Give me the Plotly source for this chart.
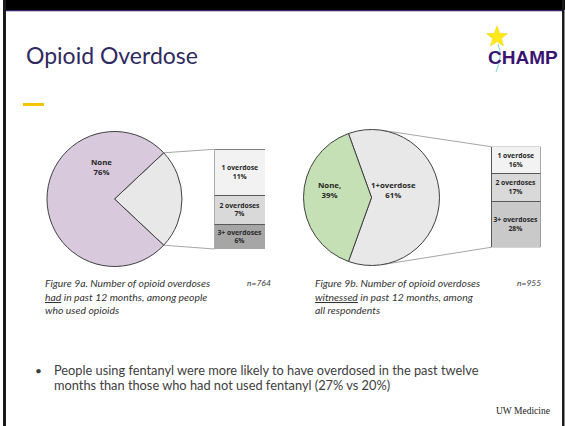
import math
import plotly.graph_objects as go

W, H = 565, 426

# ---------------- data ----------------
pie1_labels = ["1+ overdoses", "None"]
pie1_values = [24, 76]
box1_labels = ["1 overdose", "2 overdoses", "3+ overdoses"]
box1_values = [11, 7, 6]

pie2_labels = ["1+overdose", "None,"]
pie2_values = [61, 39]
box2_labels = ["1 overdose", "2 overdoses", "3+ overdoses"]
box2_values = [16, 17, 28]

n1, n2 = 764, 955

# ---------------- styles ----------------
pie1_colors = ["#e8e8e8", "#d8c9dd"]
box1_colors = ["#f2f2f2", "#d9d9d9", "#a6a6a6"]
pie2_colors = ["#e8e8e8", "#c5e0b4"]
box2_colors = ["#f2f2f2", "#d9d9d9", "#c9c9c9"]
OUTLINE = "#404040"
CONNECT = "#a6a6a6"
TXT = "#262626"
FONT = "Lato, 'Open Sans', sans-serif"
BFONT = "'Open Sans', 'Noto Sans', sans-serif"


def px(x):
    return x / W


def py(y):
    return 1 - y / H


# geometry (pixels)
c1, r1 = (114.5, 199.0), 67.5
c2, r2 = (371.5, 197.5), 68.0
b1 = dict(x0=214.5, x1=265.0, y0=149.3, y1=249.0)
b2 = dict(x0=491.0, x1=540.5, y0=146.7, y1=247.3)

fig = go.Figure()


def add_pie(labels, values, colors, c, r):
    total = sum(values)
    other_deg = values[0] / total * 360.0
    rot = 90 - other_deg / 2.0
    fig.add_trace(go.Pie(
        labels=labels, values=values, sort=False, direction="clockwise",
        rotation=rot, textinfo="none", hoverinfo="label+percent",
        marker=dict(colors=colors, line=dict(color=OUTLINE, width=1)),
        domain=dict(x=[px(c[0] - r), px(c[0] + r)], y=[py(c[1] + r), py(c[1] - r)]),
        showlegend=False,
    ))
    return other_deg


def add_box(labels, values, colors, xa, ya):
    total = sum(values)
    # stack from bottom: reversed order so first label is on top
    for lab, v, col in reversed(list(zip(labels, values, colors))):
        fig.add_trace(go.Bar(
            x=[0], y=[v], width=[1], xaxis=xa, yaxis=ya,
            marker=dict(color=col, line=dict(color="#595959", width=1)),
            text=[f"<b>{lab}<br>{v}%</b>"],
            textposition="inside", insidetextanchor="middle",
            constraintext="none", textangle=0,
            textfont=dict(size=6.8, color=TXT, family=BFONT),
            showlegend=False, hoverinfo="skip",
        ))
    return total


deg1 = add_pie(pie1_labels, pie1_values, pie1_colors, c1, r1)
deg2 = add_pie(pie2_labels, pie2_values, pie2_colors, c2, r2)
t1 = add_box(box1_labels, box1_values, box1_colors, "x2", "y2")
t2 = add_box(box2_labels, box2_values, box2_colors, "x3", "y3")

axis_off = dict(visible=False, showgrid=False, zeroline=False, fixedrange=True)
fig.update_layout(
    xaxis2=dict(domain=[px(b1["x0"]), px(b1["x1"])], range=[-0.5, 0.5], anchor="y2", **axis_off),
    yaxis2=dict(domain=[py(b1["y1"]), py(b1["y0"])], range=[0, t1], anchor="x2", **axis_off),
    xaxis3=dict(domain=[px(b2["x0"]), px(b2["x1"])], range=[-0.5, 0.5], anchor="y3", **axis_off),
    yaxis3=dict(domain=[py(b2["y1"]), py(b2["y0"])], range=[0, t2], anchor="x3", **axis_off),
    xaxis=dict(visible=False), yaxis=dict(visible=False),
    barmode="stack",
)

shapes = []
# connectors for pie 1: from slice edges to box corners
h = math.radians(deg1 / 2)
p_top = (c1[0] + r1 * math.cos(h), c1[1] - r1 * math.sin(h))
p_bot = (c1[0] + r1 * math.cos(h), c1[1] + r1 * math.sin(h))
for p, q in [(p_top, (b1["x0"], b1["y0"])), (p_bot, (b1["x0"], b1["y1"]))]:
    shapes.append(dict(type="line", xref="paper", yref="paper",
                       x0=px(p[0]), y0=py(p[1]), x1=px(q[0]), y1=py(q[1]),
                       line=dict(color=CONNECT, width=1), layer="below"))


# connectors for pie 2: tangent lines from box corners to the circle
def tangent_point(cx, cy, r, Px, Py, upper):
    dx, dy = Px - cx, Py - cy
    d = math.hypot(dx, dy)
    phi = math.atan2(dy, dx)
    a = math.acos(r / d)
    cands = [(cx + r * math.cos(phi + s * a), cy + r * math.sin(phi + s * a)) for s in (1, -1)]
    cands.sort(key=lambda t: t[1])
    return cands[0] if upper else cands[1]


for q, upper in [((b2["x0"], b2["y0"]), True), ((b2["x0"], b2["y1"]), False)]:
    p = tangent_point(c2[0], c2[1], r2, q[0], q[1], upper)
    shapes.append(dict(type="line", xref="paper", yref="paper",
                       x0=px(p[0]), y0=py(p[1]), x1=px(q[0]), y1=py(q[1]),
                       line=dict(color=CONNECT, width=1), layer="below"))

# slide frame
shapes += [
    dict(type="rect", xref="paper", yref="paper", x0=px(3), x1=px(565), y0=py(10), y1=py(0),
         fillcolor="#000000", line=dict(width=0)),
    dict(type="rect", xref="paper", yref="paper", x0=px(6), x1=px(562), y0=py(11.2), y1=py(10),
         fillcolor="#3b1f6e", line=dict(width=0)),
    dict(type="rect", xref="paper", yref="paper", x0=px(3), x1=px(6), y0=py(426), y1=py(0),
         fillcolor="#1a1a1a", line=dict(width=0)),
    dict(type="rect", xref="paper", yref="paper", x0=px(562), x1=px(564.5), y0=py(426), y1=py(0),
         fillcolor="#1a1a1a", line=dict(width=0)),
    # yellow accent dash
    dict(type="rect", xref="paper", yref="paper", x0=px(23), x1=px(44), y0=py(106), y1=py(103),
         fillcolor="#f5c400", line=dict(width=0)),
]

# logo star (decorative path, pixel geometry)
sx, sy, R, rin = 497.0, 37.0, 11.0, 4.6
pts = []
for k in range(10):
    ang = math.radians(-90 + k * 36)
    rr = R if k % 2 == 0 else rin
    pts.append((px(sx + rr * math.cos(ang)), py(sy + rr * math.sin(ang))))
path = "M " + " L ".join(f"{a:.5f},{b:.5f}" for a, b in pts) + " Z"
shapes.append(dict(type="path", xref="paper", yref="paper", path=path,
                   fillcolor="#ffe81a", line=dict(color="#f5d000", width=0.5)))
# thin swoosh under the star
shapes.append(dict(type="path", xref="paper", yref="paper",
                   path=f"M {px(498):.5f},{py(44):.5f} Q {px(503):.5f},{py(56):.5f} {px(496):.5f},{py(72):.5f}",
                   line=dict(color="#7fd0e0", width=1)))

ann = []


def text(x, y, s, size, color=TXT, family=FONT, xanchor="left", yanchor="middle", align="left"):
    ann.append(dict(x=px(x), y=py(y), xref="paper", yref="paper", text=s, showarrow=False,
                    xanchor=xanchor, yanchor=yanchor, align=align,
                    font=dict(size=size, color=color, family=family)))


# title
text(24, 55, "Opioid Overdose", 23, color="#2f2a5f")
# logo text
text(522.5, 57, "<b>CHAMP</b>", 19, color="#3a1470",
     family="'Liberation Sans', Arial, sans-serif", xanchor="center")

# pie labels
text(101.7, 166.5, f"<b>{pie1_labels[1]}<br>{pie1_values[1]}%</b>", 7.8, family=BFONT,
     xanchor="center", align="center")
text(329.5, 190, f"<b>{pie2_labels[1]}<br>{pie2_values[1]}%</b>", 7.8, family=BFONT,
     xanchor="center", align="center")
text(393.5, 190, f"<b>{pie2_labels[0]}<br>{pie2_values[0]}%</b>", 7.8, family=BFONT,
     xanchor="center", align="center")

# captions
CAP = "#333333"
CS = 10.4
text(43, 283, "<i>Figure 9a. Number of opioid overdoses</i>", CS, color=CAP)
text(43, 296.5, "<i><u>had</u> in past 12 months, among people</i>", CS, color=CAP)
text(43, 310, "<i>who used opioids</i>", CS, color=CAP)
text(245, 283, f"<i>n={n1}</i>", 8.5, color=CAP)

text(313, 283, "<i>Figure 9b. Number of opioid overdoses</i>", CS, color=CAP)
text(313, 296.5, "<i><u>witnessed</u> in past 12 months, among</i>", CS, color=CAP)
text(313, 310, "<i>all respondents</i>", CS, color=CAP)
text(515, 283, f"<i>n={n2}</i>", 8.5, color=CAP)

# bullet
BUL = "#404040"
BS = 12.8
text(33, 370, "•", 12, color=BUL)
text(51.5, 370, "People using fentanyl were more likely to have overdosed in the past twelve", BS, color=BUL)
text(51.5, 384.5, "months than those who had not used fentanyl (27% vs 20%)", BS, color=BUL)

# footer
text(552, 411, "UW Medicine", 9.5, color="#222222",
     family="'Liberation Serif', 'DejaVu Serif', serif", xanchor="right")

fig.update_layout(
    width=W, height=H, margin=dict(l=0, r=0, t=0, b=0),
    paper_bgcolor="white", plot_bgcolor="white",
    shapes=shapes, annotations=ann, showlegend=False,
)

fig.write_html("out.html")
